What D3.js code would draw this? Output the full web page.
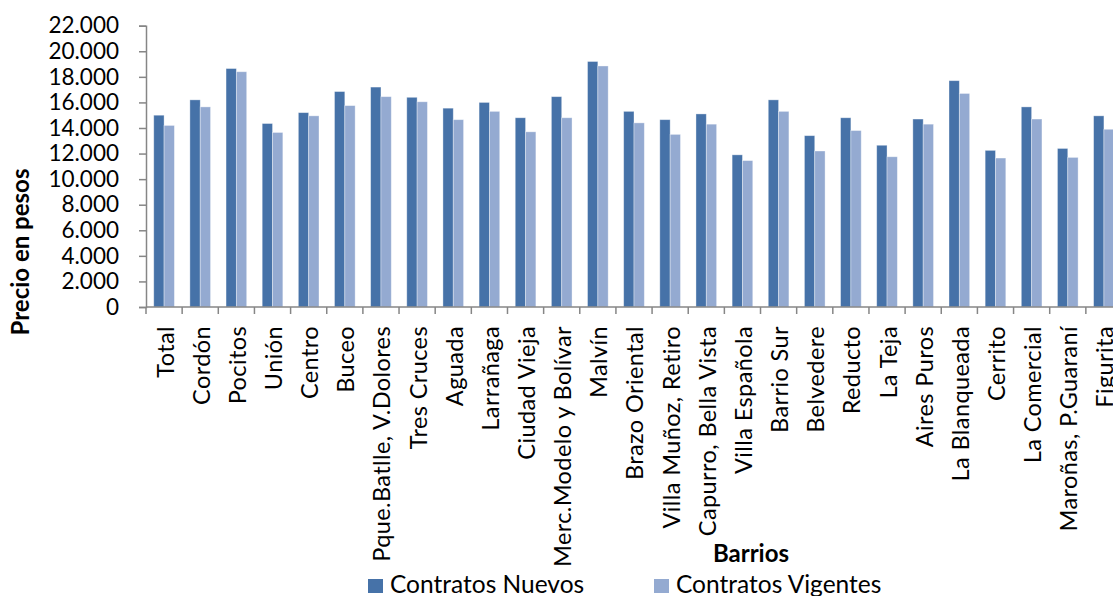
<!DOCTYPE html>
<html>
<head>
<meta charset="utf-8">
<script src="https://cdn.jsdelivr.net/npm/d3@7/dist/d3.min.js"></script>
<style>
  html, body { margin: 0; padding: 0; background: #fff; }
  svg { display: block; font-family: Lato, "Open Sans", sans-serif; }
</style>
</head>
<body>
<svg id="chart" width="1113" height="596"></svg>
<script>
const categories = ["Total","Cordón","Pocitos","Unión","Centro","Buceo","Pque.Batlle, V.Dolores","Tres Cruces","Aguada","Larrañaga","Ciudad Vieja","Merc.Modelo y Bolívar","Malvín","Brazo Oriental","Villa Muñoz, Retiro","Capurro, Bella Vista","Villa Española","Barrio Sur","Belvedere","Reducto","La Teja","Aires Puros","La Blanqueada","Cerrito","La Comercial","Maroñas, P.Guaraní","Figurita"];
const contratosNuevos = [15000,16200,18650,14350,15200,16850,17200,16400,15550,16000,14800,16450,19200,15300,14650,15100,11900,16200,13400,14800,12650,14700,17700,12250,15650,12400,14950];
const contratosVigentes = [14200,15650,18400,13650,14950,15750,16450,16050,14650,15300,13700,14800,18850,14400,13500,14300,11450,15300,12200,13800,11750,14300,16700,11650,14700,11700,13900];
const seriesNames = ["Contratos Nuevos","Contratos Vigentes"];
const seriesColors = ["#4672a8","#94aad1"];
const yTicks = [0,2000,4000,6000,8000,10000,12000,14000,16000,18000,20000,22000];
const yTitle = "Precio en pesos";
const xTitle = "Barrios";

(function () {
const svg = d3.select("#chart");
const pLeft = 146, pRight = 1122, pTop = 25.7, pBottom = 307;
const fmt = v => d3.format(",")(v).replace(/,/g, ".");

const x = d3.scaleBand().domain(categories).range([pLeft, pRight]).paddingInner(0).paddingOuter(0);
const inner = d3.scaleBand().domain(seriesNames).range([0, x.bandwidth()]).paddingInner(0).paddingOuter(0.75);
const y = d3.scaleLinear().domain([0, 22000]).range([pBottom, pTop]);

const data = categories.map((c, i) => ({c, vals: [contratosNuevos[i], contratosVigentes[i]]}));

const g = svg.append("g");
data.forEach(d => {
  d.vals.forEach((v, k) => {
    g.append("rect")
      .attr("x", x(d.c) + inner(seriesNames[k]))
      .attr("y", y(v))
      .attr("width", inner.bandwidth())
      .attr("height", y(0) - y(v))
      .attr("fill", seriesColors[k])
      .attr("stroke", "rgba(255,255,255,0.45)")
      .attr("stroke-width", 0.8);
  });
});

// Y axis
const yAxis = svg.append("g").attr("transform", `translate(${pLeft},0)`)
  .call(d3.axisLeft(y).tickValues(yTicks).tickFormat(fmt).tickSize(7).tickPadding(20));
yAxis.select(".domain").attr("stroke", "#868686").attr("stroke-width", 1.5);
yAxis.selectAll(".tick line").attr("stroke", "#868686").attr("stroke-width", 1.5);
yAxis.selectAll(".tick text").attr("font-size", 22.5).attr("fill", "#000").attr("font-family", "Lato");

// X axis
const xAxisG = svg.append("g");
xAxisG.append("line").attr("x1", pLeft).attr("x2", pRight).attr("y1", pBottom).attr("y2", pBottom)
  .attr("stroke", "#868686").attr("stroke-width", 1.5);
const bounds = categories.map(c => x(c)).concat([pRight]);
xAxisG.selectAll("line.tk").data(bounds).enter().append("line").attr("class","tk")
  .attr("x1", d => d).attr("x2", d => d).attr("y1", pBottom).attr("y2", pBottom + 7)
  .attr("stroke", "#868686").attr("stroke-width", 1.5);
xAxisG.selectAll("text").data(categories).enter().append("text")
  .attr("transform", d => `translate(${x(d) + x.bandwidth()/2 + 1},${pBottom + 19}) rotate(-90)`)
  .attr("text-anchor", "end")
  .attr("dy", "0.36em")
  .attr("font-size", 23.5)
  .attr("letter-spacing", 0.4)
  .attr("fill", "#000")
  .text(d => d);

// Titles
svg.append("text").attr("transform", "translate(20,252) rotate(-90)")
  .attr("text-anchor", "middle").attr("dy", "0.36em")
  .attr("font-size", 24).attr("font-weight", "bold").text(yTitle);
svg.append("text").attr("x", 751).attr("y", 562)
  .attr("text-anchor", "middle").attr("font-size", 24).attr("font-weight", "bold").text(xTitle);

// Legend
const legX = [368, 654];
seriesNames.forEach((n, k) => {
  svg.append("rect").attr("x", legX[k]).attr("y", 579).attr("width", 15).attr("height", 14).attr("fill", seriesColors[k]);
  svg.append("text").attr("x", legX[k] + 22).attr("y", 593).attr("font-size", 24.5).text(n);
});
})();
</script>
</body>
</html>
